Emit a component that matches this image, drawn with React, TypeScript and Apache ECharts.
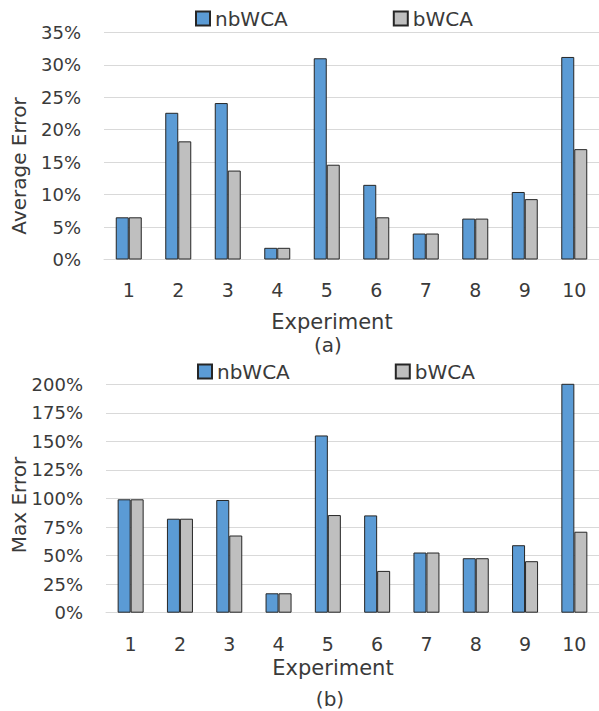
import React, { useEffect, useRef } from "react";
import * as echarts from "echarts";

const experiments = ["1", "2", "3", "4", "5", "6", "7", "8", "9", "10"];
const seriesNames = ["nbWCA", "bWCA"];

// (a) Average Error, in percent
const avgNbWCA = [6.5, 22.6, 24.1, 1.8, 31.0, 11.5, 4.0, 6.3, 10.4, 31.2];
const avgBWCA = [6.5, 18.2, 13.7, 1.8, 14.6, 6.5, 4.0, 6.3, 9.3, 17.0];

// (b) Max Error, in percent (experiment 10 nbWCA runs off the top of the axis)
const maxNbWCA = [99.3, 82.3, 98.7, 17.0, 155.2, 85.2, 52.7, 47.7, 59.1, 210];
const maxBWCA = [99.3, 82.3, 67.6, 17.0, 85.5, 36.6, 52.7, 47.7, 45.1, 70.9];

const FONT = "DejaVu Sans";
const TEXT = "#3a3a3a";
const GRID = "#d9d9d9";
const BLUE = "#5b9bd5";
const GRAY = "#bfbfbf";
const BORDER = "#262626";

export default function App() {
  const ref = useRef<HTMLDivElement>(null);

  useEffect(() => {
    if (!ref.current) return;
    const chart = echarts.init(ref.current, null, { renderer: "svg" });

    const xAxisBase = (gridIndex: number, margin: number) => ({
      type: "category" as const,
      gridIndex,
      data: experiments,
      axisLine: { show: true, lineStyle: { color: GRID, width: 1 } },
      axisTick: { show: false },
      axisLabel: { margin, fontFamily: FONT, fontSize: 19, color: TEXT },
    });

    const yAxisBase = (gridIndex: number, max: number, interval: number) => ({
      type: "value" as const,
      gridIndex,
      min: 0,
      max,
      interval,
      axisLine: { show: false },
      axisTick: { show: false },
      splitLine: { lineStyle: { color: GRID, width: 1 } },
      axisLabel: {
        margin: 23,
        fontFamily: FONT,
        fontSize: 18,
        color: TEXT,
        formatter: "{value}%",
      },
    });

    const barSeries = (name: string, data: number[], idx: number, color: string) => ({
      name,
      type: "bar" as const,
      xAxisIndex: idx,
      yAxisIndex: idx,
      data,
      barWidth: 13,
      barGap: "0%",
      clip: true,
      itemStyle: { color, borderColor: BORDER, borderWidth: 1 },
    });

    const legendBase = (left: number, top: number) => ({
      data: seriesNames,
      left,
      top,
      icon: "rect",
      itemWidth: 14,
      itemHeight: 14,
      itemGap: 105,
      textStyle: { fontFamily: FONT, fontSize: 20, color: TEXT },
      selectedMode: false,
    });

    const txt = (text: string, x: number, y: number, size: number, rot = 0) => ({
      type: "text" as const,
      x,
      y,
      rotation: rot,
      style: {
        text,
        font: `${size}px "${FONT}"`,
        fill: TEXT,
        textAlign: "center",
        textVerticalAlign: "middle",
      },
    });

    chart.setOption({
      animation: false,
      backgroundColor: "#ffffff",
      legend: [legendBase(190, 3.5), legendBase(192, 356.5)],
      grid: [
        { left: 104, width: 495, top: 32.3, height: 227.2 },
        { left: 106, width: 493, top: 384.3, height: 228.4 },
      ],
      xAxis: [xAxisBase(0, 21), xAxisBase(1, 22)],
      yAxis: [yAxisBase(0, 35, 5), yAxisBase(1, 200, 25)],
      series: [
        barSeries("nbWCA", avgNbWCA, 0, BLUE),
        barSeries("bWCA", avgBWCA, 0, GRAY),
        barSeries("nbWCA", maxNbWCA, 1, BLUE),
        barSeries("bWCA", maxBWCA, 1, GRAY),
      ],
      graphic: [
        txt("Average Error", 19, 166, 20, Math.PI / 2),
        txt("Max Error", 19, 505, 20, Math.PI / 2),
        txt("Experiment", 332, 322, 21),
        txt("(a)", 328, 344.5, 20),
        txt("Experiment", 333, 667.5, 21),
        txt("(b)", 330, 699, 20),
      ],
    });

    return () => chart.dispose();
  }, []);

  return (
    <div
      ref={ref}
      style={{ position: "absolute", left: 0, top: 0, width: 599, height: 711 }}
    />
  );
}
